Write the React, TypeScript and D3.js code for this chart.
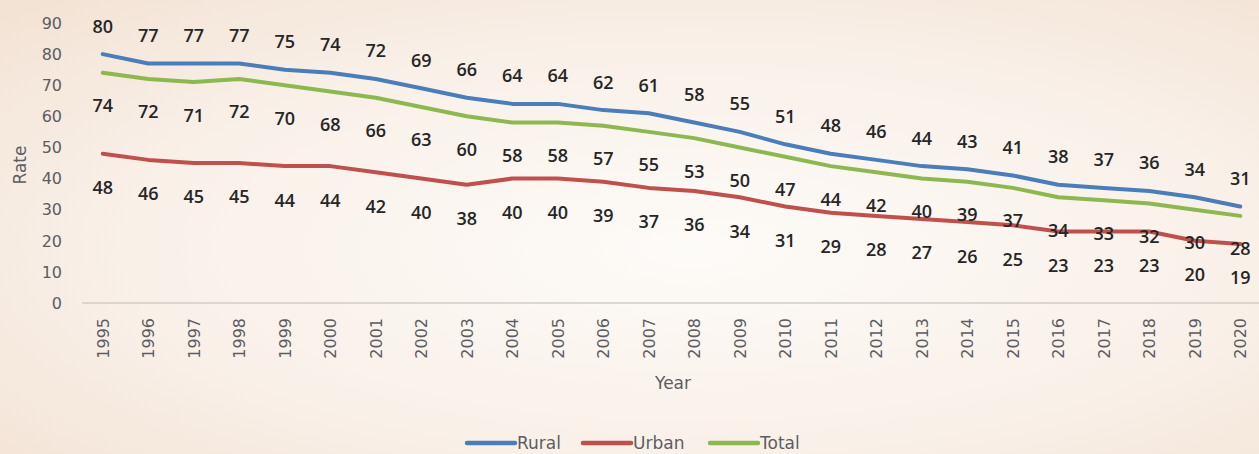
import React from "react";
import * as d3 from "d3";

const years = [1995,1996,1997,1998,1999,2000,2001,2002,2003,2004,2005,2006,2007,2008,2009,2010,2011,2012,2013,2014,2015,2016,2017,2018,2019,2020];
const rural = [80,77,77,77,75,74,72,69,66,64,64,62,61,58,55,51,48,46,44,43,41,38,37,36,34,31];
const urban = [48,46,45,45,44,44,42,40,38,40,40,39,37,36,34,31,29,28,27,26,25,23,23,23,20,19];
const total = [74,72,71,72,70,68,66,63,60,58,58,57,55,53,50,47,44,42,40,39,37,34,33,32,30,28];
const yTicks = [0,10,20,30,40,50,60,70,80,90];

const W = 1259, H = 454;
const AXFONT = "'DejaVu Sans', Verdana, sans-serif";
const LBLFONT = "'Open Sans', Lato, sans-serif";
const AXCOL = "#5c5d63";

const series = [
  { name: "Rural", values: rural, color: "#4A7EBB", dy: -28 },
  { name: "Urban", values: urban, color: "#C0504D", dy: 34 },
  { name: "Total", values: total, color: "#8DB84F", dy: 33 },
];

export default function App() {
  const x = d3.scaleBand<number>().domain(years).range([80, 80 + 45.5 * years.length]);
  const cx = (yr: number) => (x(yr) as number) + x.bandwidth() / 2;
  const y = d3.scaleLinear().domain([0, 90]).range([303, 23]);
  const line = (vals: number[]) =>
    d3.line<number>().x((_, i) => cx(years[i])).y((v) => y(v))(vals) as string;

  const legend = [
    { name: "Rural", color: "#4A7EBB", x0: 467 },
    { name: "Urban", color: "#C0504D", x0: 583 },
    { name: "Total", color: "#8DB84F", x0: 710 },
  ];

  return (
    <svg width={W} height={H} style={{ position: "absolute", left: 0, top: 0, display: "block" }}>
      <defs>
        <radialGradient id="bg" cx="0.55" cy="0.55" r="0.75">
          <stop offset="0" stopColor="#fdfbf8" />
          <stop offset="0.6" stopColor="#f9f0e8" />
          <stop offset="1" stopColor="#f3e3d5" />
        </radialGradient>
      </defs>
      <rect x={0} y={0} width={W} height={H} fill="url(#bg)" />

      {/* y tick labels */}
      {yTicks.map((t) => (
        <text key={t} x={62} y={y(t)} dy="0.36em" textAnchor="end" fontFamily={AXFONT} fontSize={16} fill={AXCOL}>
          {t}
        </text>
      ))}
      <text transform={`translate(26,${165}) rotate(-90)`} textAnchor="middle" fontFamily={AXFONT} fontSize={17} fill={AXCOL}>
        Rate
      </text>

      {/* x axis */}
      <line x1={82} x2={W} y1={y(0)} y2={y(0)} stroke="#d0ccc8" strokeWidth={1.5} />
      {years.map((yr) => (
        <text key={yr} transform={`translate(${cx(yr)},318) rotate(-90)`} dy="0.36em" textAnchor="end" fontFamily={AXFONT} fontSize={16} fill={AXCOL}>
          {yr}
        </text>
      ))}
      <text x={673} y={383} dy="0.36em" textAnchor="middle" fontFamily={AXFONT} fontSize={17} fill={AXCOL}>
        Year
      </text>

      {/* lines */}
      {series.map((s) => (
        <path key={s.name} d={line(s.values)} fill="none" stroke={s.color} strokeWidth={4} strokeLinejoin="round" strokeLinecap="round" />
      ))}

      {/* data labels */}
      {series.map((s) =>
        s.values.map((v, i) => (
          <text key={s.name + i} x={cx(years[i])} y={y(v) + s.dy} dy="0.36em" textAnchor="middle" fontFamily={LBLFONT} fontSize={18} fontWeight={600} fill="#262626">
            {v}
          </text>
        ))
      )}

      {/* legend */}
      {legend.map((l) => (
        <g key={l.name}>
          <line x1={l.x0} x2={l.x0 + 48} y1={443} y2={443} stroke={l.color} strokeWidth={4.5} strokeLinecap="round" />
          <text x={l.x0 + 50} y={443} dy="0.36em" fontFamily={AXFONT} fontSize={17} fill={AXCOL}>
            {l.name}
          </text>
        </g>
      ))}
    </svg>
  );
}
